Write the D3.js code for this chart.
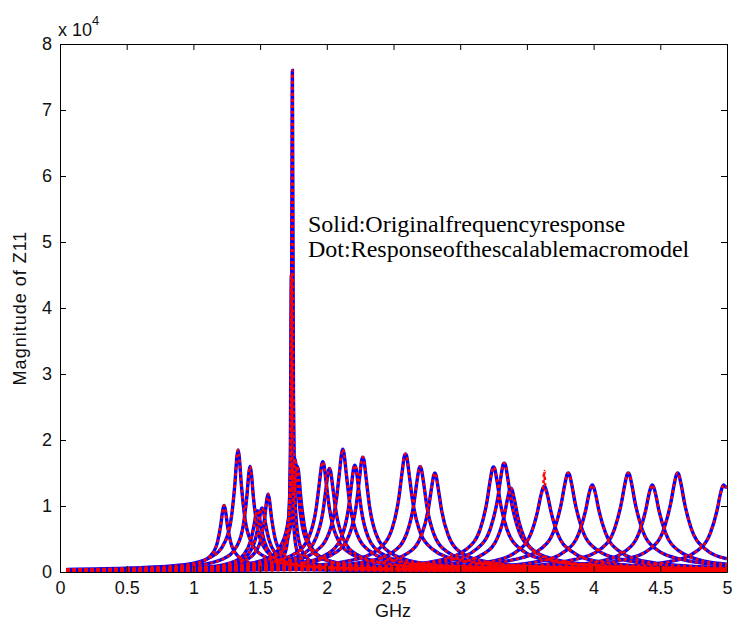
<!DOCTYPE html>
<html>
<head>
<meta charset="utf-8">
<script src="https://cdn.jsdelivr.net/npm/d3@7"></script>
<style>
body { margin: 0; background: #fff; }
text { font-family: "Liberation Sans", Arial, sans-serif; }
</style>
</head>
<body>
<svg id="chart"></svg>
<script>
// axis ticks
const xTicks = [0, 0.5, 1, 1.5, 2, 2.5, 3, 3.5, 4, 4.5, 5];
const yTicks = [0, 1, 2, 3, 4, 5, 6, 7, 8];

// resonance peaks (GHz) of each response curve
const peakGHz = [1.23, 1.335, 1.425, 1.48, 1.515, 1.56, 1.734, 1.742, 1.76, 1.78,
                 1.97, 2.02, 2.12, 2.21, 2.27, 2.59, 2.70, 2.81, 3.25, 3.33,
                 3.38, 3.63, 3.81, 3.99, 4.26, 4.44, 4.63, 4.975];

// frequency offsets from each peak where magnitude was read
const peakOffsetGHz = [-0.8, -0.4, -0.2, -0.1, -0.05, -0.025, -0.008, 0, 0.008, 0.025, 0.05, 0.1, 0.2, 0.4, 0.8];

// magnitude (x 10^4) at those offsets, one row per curve
const curveMag = [
  [0.03,0.06,0.13,0.25,0.45,0.71,0.96,1.01,0.96,0.71,0.45,0.25,0.13,0.06,0.03],
  [0.06,0.11,0.23,0.45,0.83,1.31,1.76,1.85,1.76,1.31,0.83,0.45,0.23,0.11,0.06],
  [0.05,0.10,0.20,0.39,0.72,1.13,1.52,1.60,1.52,1.13,0.72,0.39,0.20,0.10,0.05],
  [0.03,0.07,0.14,0.27,0.48,0.71,0.90,0.93,0.90,0.71,0.48,0.27,0.14,0.07,0.03],
  [0.04,0.07,0.14,0.28,0.50,0.74,0.94,0.97,0.94,0.74,0.50,0.28,0.14,0.07,0.04],
  [0.04,0.07,0.15,0.29,0.53,0.83,1.12,1.18,1.12,0.83,0.53,0.29,0.15,0.07,0.04],
  [0.02,0.03,0.07,0.14,0.27,0.54,1.58,4.50,1.58,0.54,0.27,0.14,0.07,0.03,0.02],
  [0.03,0.06,0.11,0.23,0.46,0.90,2.67,7.60,2.67,0.90,0.46,0.23,0.11,0.06,0.03],
  [0.05,0.11,0.21,0.42,0.77,1.22,1.64,1.72,1.64,1.22,0.77,0.42,0.21,0.11,0.05],
  [0.05,0.10,0.20,0.39,0.72,1.13,1.52,1.60,1.52,1.13,0.72,0.39,0.20,0.10,0.05],
  [0.07,0.15,0.29,0.55,0.96,1.36,1.63,1.67,1.63,1.36,0.96,0.55,0.29,0.15,0.07],
  [0.07,0.14,0.27,0.52,0.90,1.28,1.53,1.57,1.53,1.28,0.90,0.52,0.27,0.14,0.07],
  [0.08,0.16,0.32,0.61,1.07,1.51,1.81,1.86,1.81,1.51,1.07,0.61,0.32,0.16,0.08],
  [0.07,0.14,0.28,0.53,0.93,1.32,1.58,1.62,1.58,1.32,0.93,0.53,0.28,0.14,0.07],
  [0.08,0.15,0.30,0.57,1.00,1.42,1.70,1.74,1.70,1.42,1.00,0.57,0.30,0.15,0.08],
  [0.09,0.18,0.35,0.66,1.12,1.52,1.76,1.79,1.76,1.52,1.12,0.66,0.35,0.18,0.09],
  [0.08,0.16,0.31,0.59,1.00,1.36,1.57,1.60,1.57,1.36,1.00,0.59,0.31,0.16,0.08],
  [0.08,0.15,0.29,0.56,0.94,1.27,1.47,1.50,1.47,1.27,0.94,0.56,0.29,0.15,0.08],
  [0.09,0.18,0.35,0.65,1.06,1.39,1.57,1.59,1.57,1.39,1.06,0.65,0.35,0.18,0.09],
  [0.09,0.18,0.36,0.68,1.10,1.44,1.63,1.65,1.63,1.44,1.10,0.68,0.36,0.18,0.09],
  [0.07,0.14,0.28,0.52,0.85,1.11,1.25,1.27,1.25,1.11,0.85,0.52,0.28,0.14,0.07],
  [0.08,0.16,0.32,0.58,0.92,1.16,1.28,1.30,1.28,1.16,0.92,0.58,0.32,0.16,0.08],
  [0.09,0.19,0.36,0.67,1.06,1.34,1.48,1.50,1.48,1.34,1.06,0.67,0.36,0.19,0.09],
  [0.08,0.16,0.32,0.59,0.93,1.18,1.30,1.32,1.30,1.18,0.93,0.59,0.32,0.16,0.08],
  [0.09,0.19,0.36,0.67,1.06,1.34,1.48,1.50,1.48,1.34,1.06,0.67,0.36,0.19,0.09],
  [0.08,0.16,0.32,0.59,0.93,1.18,1.30,1.32,1.30,1.18,0.93,0.59,0.32,0.16,0.08],
  [0.09,0.19,0.36,0.67,1.06,1.34,1.48,1.50,1.48,1.34,1.06,0.67,0.36,0.19,0.09],
  [0.08,0.16,0.32,0.59,0.93,1.18,1.30,1.32,1.30,1.18,0.93,0.59,0.32,0.16,0.08]
];

// magnitude at the ends of the sweep (0.05 GHz and 5 GHz)
const lowEndMag  = [0.02,0.04,0.03,0.02,0.02,0.02,0.01,0.01,0.03,0.02,0.03,0.03,0.03,0.03,
                    0.03,0.03,0.02,0.02,0.02,0.02,0.02,0.02,0.02,0.02,0.02,0.02,0.02,0.01];
const highEndMag = [0.01,0.01,0.01,0.01,0.01,0.01,0.00,0.01,0.01,0.01,0.02,0.02,0.02,0.02,
                    0.02,0.03,0.03,0.03,0.04,0.04,0.04,0.05,0.06,0.07,0.10,0.12,0.20,1.28];

// where the macromodel (dotted) peak differs from the original
const dotPeakGHz = [3.63];
const dotPeakMag = [1.53];

const sweepStart = 0.05, sweepEnd = 5;

const W = 736, H = 632;
const svg = d3.select("#chart").attr("width", W).attr("height", H);
svg.append("rect").attr("width", W).attr("height", H).attr("fill", "#fff");

let x = d3.scaleLinear().domain([0, 5]).range([60, 727]);
let y = d3.scaleLinear().domain([0, 8]).range([572, 44]);

svg.append("clipPath").attr("id", "plotClip")
  .append("rect").attr("x", 60).attr("y", 44).attr("width", 667).attr("height", 528);

function curvePoints(i, dotted) {
  let f0 = peakGHz[i];
  let pts = [[sweepStart, lowEndMag[i]]];
  peakOffsetGHz.forEach((off, j) => {
    let f = f0 + off;
    if (f <= sweepStart || f >= sweepEnd) return;
    let m = curveMag[i][j];
    if (dotted && off === 0) {
      let k = dotPeakGHz.indexOf(f0);
      if (k >= 0) m = dotPeakMag[k];
    }
    pts.push([f, m]);
  });
  pts.push([sweepEnd, highEndMag[i]]);
  return pts;
}

let line = d3.line()
  .x(d => x(d[0]))
  .y(d => y(d[1]))
  .curve(d3.curveMonotoneX);

let plot = svg.append("g").attr("clip-path", "url(#plotClip)");

// solid: original frequency response
peakGHz.forEach((f, i) => {
  plot.append("path")
    .datum(curvePoints(i, false))
    .attr("d", line)
    .attr("fill", "none")
    .attr("stroke", "#0000ff")
    .attr("stroke-width", 3.4);
});

// dotted: scalable macromodel
peakGHz.forEach((f, i) => {
  plot.append("path")
    .datum(curvePoints(i, true))
    .attr("d", line)
    .attr("fill", "none")
    .attr("stroke", "#ff0000")
    .attr("stroke-width", 2.6)
    .attr("stroke-dasharray", "3,3");
});

// axes, MATLAB style: box with inward ticks
function styleAxis(g) {
  g.selectAll(".domain").attr("stroke", "#000").attr("stroke-width", 1);
  g.selectAll(".tick line").attr("stroke", "#000");
  g.selectAll("text").attr("fill", "#111").style("font-size", "18px")
    .style("font-family", "'Liberation Sans', Arial, sans-serif");
}

let fmt = d3.format("~g");

svg.append("g").attr("transform", "translate(0,572)")
  .call(d3.axisBottom(x).tickValues(xTicks).tickFormat(fmt).tickSizeInner(-6).tickSizeOuter(0).tickPadding(9))
  .call(styleAxis);
svg.append("g").attr("transform", "translate(0,44)")
  .call(d3.axisTop(x).tickValues(xTicks).tickFormat("").tickSizeInner(-6).tickSizeOuter(0))
  .call(styleAxis);
svg.append("g").attr("transform", "translate(60,0)")
  .call(d3.axisLeft(y).tickValues(yTicks).tickFormat(fmt).tickSizeInner(-6).tickSizeOuter(0).tickPadding(8))
  .call(styleAxis);
svg.append("g").attr("transform", "translate(727,0)")
  .call(d3.axisRight(y).tickValues(yTicks).tickFormat("").tickSizeInner(-6).tickSizeOuter(0))
  .call(styleAxis);

// exponent label
let expo = svg.append("text").attr("x", 58).attr("y", 36)
  .attr("fill", "#111").style("font-size", "18px");
expo.append("tspan").text("x 10");
expo.append("tspan").attr("dy", -11).style("font-size", "13px").text("4");

// axis titles
svg.append("text")
  .attr("x", 393).attr("y", 617)
  .attr("text-anchor", "middle")
  .attr("fill", "#111").style("font-size", "18px")
  .text("GHz");

svg.append("text")
  .attr("transform", "translate(26,308) rotate(-90)")
  .attr("text-anchor", "middle")
  .attr("fill", "#111").style("font-size", "18px")
  .style("letter-spacing", "1px")
  .text("Magnitude of Z11");

// annotation
let note = svg.append("g")
  .style("font-family", "'Liberation Serif', 'Times New Roman', serif")
  .style("font-size", "24px");
note.append("text").attr("x", 308).attr("y", 232).style("font-family", "'Liberation Serif', serif")
  .text("Solid:Originalfrequencyresponse");
note.append("text").attr("x", 308).attr("y", 257).style("font-family", "'Liberation Serif', serif")
  .text("Dot:Responseofthescalablemacromodel");
</script>
</body>
</html>
